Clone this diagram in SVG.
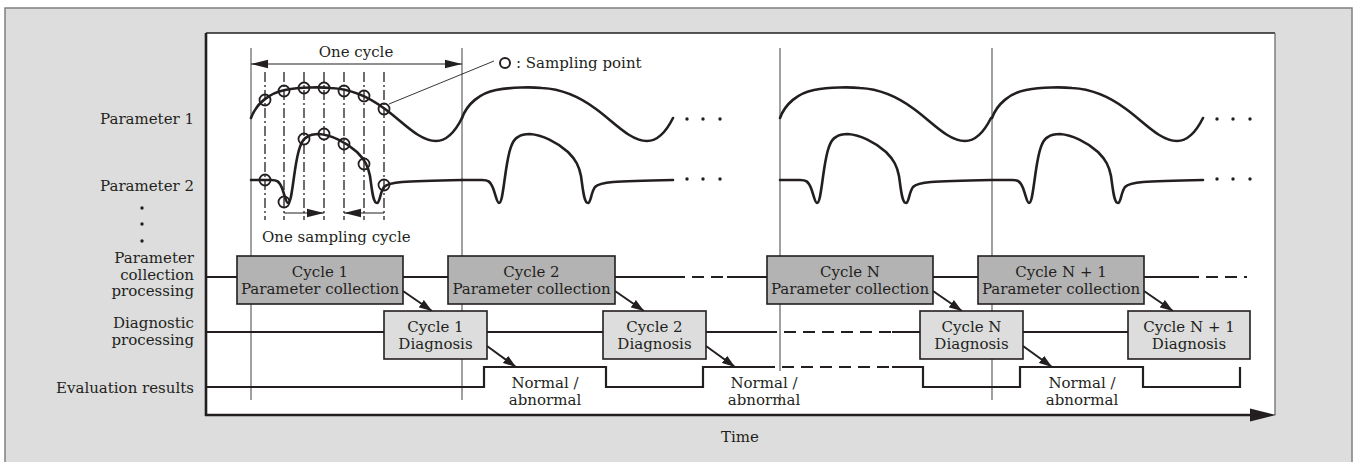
<svg xmlns="http://www.w3.org/2000/svg" xmlns:xlink="http://www.w3.org/1999/xlink" width="1356" height="462" viewBox="0 0 1356 462">
<style>
text{font-family:"DejaVu Serif","Liberation Serif",serif;font-size:15px;fill:#231f20}
.r{text-anchor:end}
.m{text-anchor:middle}
.wave{fill:none;stroke:#231f20;stroke-width:2.6;stroke-linecap:round}
.vl{stroke:#6d6e70;stroke-width:1.3}
.dd{stroke:#231f20;stroke-width:1.3;stroke-dasharray:10,3,2,3}
.sp{fill:none;stroke:#231f20;stroke-width:1.8}
.row{fill:none;stroke:#231f20;stroke-width:2.2}
.dash{fill:none;stroke:#231f20;stroke-width:2.2;stroke-dasharray:12,7}
.pc{fill:#b3b3b3;stroke:#231f20;stroke-width:1.6}
.dg{fill:#dcdddc;stroke:#231f20;stroke-width:1.6}
.arr{stroke:#231f20;stroke-width:2;marker-end:url(#ah)}
.dot{fill:#231f20}
</style>
<defs>
<marker id="ah" markerUnits="userSpaceOnUse" markerWidth="14" markerHeight="10" refX="13" refY="5" orient="auto"><path d="M0,0.5 L13,5 L0,9.5 z" fill="#231f20"/></marker>
<marker id="ah2" markerUnits="userSpaceOnUse" markerWidth="18" markerHeight="10" refX="17" refY="5" orient="auto-start-reverse"><path d="M0,0.8 L17,5 L0,9.2 z" fill="#231f20"/></marker>
<path id="w1" d="M0,118 C5,104 18,93 34,90 C50,87 70,87 80,88 C100,89 118,97 134,109 C152,122 168,141 185,141 C197,141 205,130 211,118"/>
<path id="w2" d="M0,180 L20,180 C26,180 28,181 31,188 C34,196 35,203 37,203 C40,203 41,190 44,170 C47,150 50,140 56,137 C60,134 64,134 68,134 C80,135 95,142 106,152 C114,160 117,166 119,176 C121,190 122,203 126,203 C129,203 129,192 133,187 C138,182 150,181 211,180"/>
</defs>

<!-- background -->
<rect x="5" y="8" width="1347" height="470" fill="#dcdddc" stroke="#808080" stroke-width="1.5"/>
<rect x="206" y="33" width="1069" height="382" fill="#ffffff"/>
<line x1="206" y1="33" x2="1275" y2="33" stroke="#231f20" stroke-width="1.3"/>
<line x1="1275" y1="33" x2="1275" y2="415" stroke="#6d6e70" stroke-width="1.3"/>

<!-- cycle boundary lines -->
<g id="cycle-lines">
<line class="vl" x1="251" y1="48" x2="251" y2="400"/>
<line class="vl" x1="462" y1="48" x2="462" y2="400"/>
<line class="vl" x1="780" y1="48" x2="780" y2="371"/>
<line class="vl" x1="780" y1="394" x2="780" y2="401"/>
<line class="vl" x1="992" y1="48" x2="992" y2="400"/>
</g>

<!-- sampling lines -->
<g id="sampling-lines">
<line class="dd" x1="265" y1="72" x2="265" y2="220"/>
<line class="dd" x1="284" y1="72" x2="284" y2="220"/>
<line class="dd" x1="304" y1="72" x2="304" y2="220"/>
<line class="dd" x1="324" y1="72" x2="324" y2="220"/>
<line class="dd" x1="344" y1="72" x2="344" y2="220"/>
<line class="dd" x1="364" y1="72" x2="364" y2="220"/>
<line class="dd" x1="384" y1="72" x2="384" y2="220"/>
</g>

<!-- waveforms -->
<g id="parameter-1-wave" class="wave">
<use xlink:href="#w1" href="#w1" x="251"/>
<use xlink:href="#w1" href="#w1" x="462"/>
<use xlink:href="#w1" href="#w1" x="780"/>
<use xlink:href="#w1" href="#w1" x="992"/>
</g>
<g id="parameter-2-wave" class="wave">
<use xlink:href="#w2" href="#w2" x="251"/>
<use xlink:href="#w2" href="#w2" x="462"/>
<use xlink:href="#w2" href="#w2" x="780"/>
<use xlink:href="#w2" href="#w2" x="992"/>
</g>

<!-- sampling points -->
<g id="sampling-points" class="sp">
<circle cx="265" cy="100" r="5.5"/><circle cx="284" cy="91" r="5.5"/><circle cx="304" cy="88" r="5.5"/><circle cx="324" cy="88" r="5.5"/><circle cx="344" cy="91" r="5.5"/><circle cx="364" cy="96" r="5.5"/><circle cx="384" cy="109" r="5.5"/>
<circle cx="265" cy="180" r="5.5"/><circle cx="284" cy="202" r="5.5"/><circle cx="304" cy="139" r="5.5"/><circle cx="324" cy="134" r="5.5"/><circle cx="344" cy="144" r="5.5"/><circle cx="364" cy="164" r="5.5"/><circle cx="384" cy="185" r="5.5"/>
</g>

<!-- continuation dots -->
<g id="ellipses" class="dot">
<circle cx="687" cy="119" r="1.7"/><circle cx="703" cy="119" r="1.7"/><circle cx="720" cy="119" r="1.7"/>
<circle cx="687" cy="179" r="1.7"/><circle cx="703" cy="179" r="1.7"/><circle cx="720" cy="179" r="1.7"/>
<circle cx="1217" cy="119" r="1.7"/><circle cx="1233" cy="119" r="1.7"/><circle cx="1250" cy="119" r="1.7"/>
<circle cx="1217" cy="179" r="1.7"/><circle cx="1233" cy="179" r="1.7"/><circle cx="1250" cy="179" r="1.7"/>
<circle cx="142" cy="208" r="1.7"/><circle cx="142" cy="224" r="1.7"/><circle cx="142" cy="241" r="1.7"/>
</g>

<!-- annotations -->
<g id="one-cycle">
<line x1="251" y1="64" x2="462" y2="64" stroke="#231f20" stroke-width="1.1" marker-start="url(#ah2)" marker-end="url(#ah2)"/>
<text class="m" x="356" y="57">One cycle</text>
</g>
<g id="one-sampling-cycle">
<line x1="284" y1="213" x2="324" y2="213" stroke="#231f20" stroke-width="1.1" marker-end="url(#ah2)"/>
<line x1="384" y1="213" x2="344" y2="213" stroke="#231f20" stroke-width="1.1" marker-end="url(#ah2)"/>
<text x="262" y="242">One sampling cycle</text>
</g>
<g id="legend">
<line x1="389" y1="104" x2="494" y2="61" stroke="#231f20" stroke-width="0.9"/>
<circle cx="505" cy="63" r="5" fill="none" stroke="#231f20" stroke-width="2"/>
<text x="516" y="68">: Sampling point</text>
</g>

<!-- row labels -->
<g id="row-labels">
<text class="r" x="194" y="124">Parameter 1</text>
<text class="r" x="194" y="191">Parameter 2</text>
<text class="r" x="194" y="263">Parameter</text>
<text class="r" x="194" y="280">collection</text>
<text class="r" x="194" y="296">processing</text>
<text class="r" x="194" y="328">Diagnostic</text>
<text class="r" x="194" y="345">processing</text>
<text class="r" x="194" y="393">Evaluation results</text>
</g>

<!-- connectors / timelines -->
<g id="connectors">
<path class="row" d="M206,277 H237 M403,277 H448 M615,277 H673 M727,277 H767 M933,277 H978 M1144,277 H1187"/>
<path class="dash" d="M673,277 H727 M1187,277 H1247"/>
<path class="row" d="M206,332 H384 M487,332 H603 M706,332 H765 M892,332 H920 M1023,332 H1128"/>
<path class="dash" d="M765,332 H892"/>
<path class="row" d="M206,387 H484 V367 H606 V387 H703 V367 H763 M892,367 H923 V387 H1020 V367 H1143 V387 H1240 V367"/>
<path class="dash" d="M763,367 H892"/>
<line class="arr" x1="403" y1="291" x2="432" y2="311"/>
<line class="arr" x1="487" y1="346" x2="516" y2="367"/>
<line class="arr" x1="615" y1="291" x2="644" y2="311"/>
<line class="arr" x1="706" y1="346" x2="735" y2="367"/>
<line class="arr" x1="933" y1="291" x2="962" y2="311"/>
<line class="arr" x1="1023" y1="346" x2="1052" y2="367"/>
<line class="arr" x1="1144" y1="291" x2="1173" y2="311"/>
</g>

<!-- nodes -->
<g id="cycle1-collection"><rect class="pc" x="237" y="256" width="166" height="48"/><text class="m" x="320" y="277">Cycle 1</text><text class="m" x="320" y="294">Parameter collection</text></g>
<g id="cycle2-collection"><rect class="pc" x="448" y="256" width="167" height="48"/><text class="m" x="531.5" y="277">Cycle 2</text><text class="m" x="531.5" y="294">Parameter collection</text></g>
<g id="cycleN-collection"><rect class="pc" x="767" y="256" width="166" height="48"/><text class="m" x="850" y="277">Cycle N</text><text class="m" x="850" y="294">Parameter collection</text></g>
<g id="cycleN1-collection"><rect class="pc" x="978" y="256" width="166" height="48"/><text class="m" x="1061" y="277">Cycle N + 1</text><text class="m" x="1061" y="294">Parameter collection</text></g>

<g id="cycle1-diagnosis"><rect class="dg" x="384" y="311" width="103" height="48"/><text class="m" x="435.5" y="332">Cycle 1</text><text class="m" x="435.5" y="349">Diagnosis</text></g>
<g id="cycle2-diagnosis"><rect class="dg" x="603" y="311" width="103" height="48"/><text class="m" x="654.5" y="332">Cycle 2</text><text class="m" x="654.5" y="349">Diagnosis</text></g>
<g id="cycleN-diagnosis"><rect class="dg" x="920" y="311" width="103" height="48"/><text class="m" x="971.5" y="332">Cycle N</text><text class="m" x="971.5" y="349">Diagnosis</text></g>
<g id="cycleN1-diagnosis"><rect class="dg" x="1128" y="311" width="122" height="48"/><text class="m" x="1189" y="332">Cycle N + 1</text><text class="m" x="1189" y="349">Diagnosis</text></g>

<g id="result-1"><text class="m" x="545" y="388">Normal /</text><text class="m" x="545" y="405">abnormal</text></g>
<g id="result-2"><text class="m" x="764" y="388">Normal /</text><text class="m" x="764" y="405">abnormal</text></g>
<g id="result-3"><text class="m" x="1082" y="388">Normal /</text><text class="m" x="1082" y="405">abnormal</text></g>

<!-- axes -->
<g id="axes">
<line x1="206" y1="33" x2="206" y2="416" stroke="#231f20" stroke-width="2.6"/>
<line x1="205" y1="415" x2="1252" y2="415" stroke="#231f20" stroke-width="2.6"/>
<path d="M1250,408.5 L1276,415 L1250,421.5 z" fill="#231f20"/>
<text class="m" x="740" y="442">Time</text>
</g>
</svg>
